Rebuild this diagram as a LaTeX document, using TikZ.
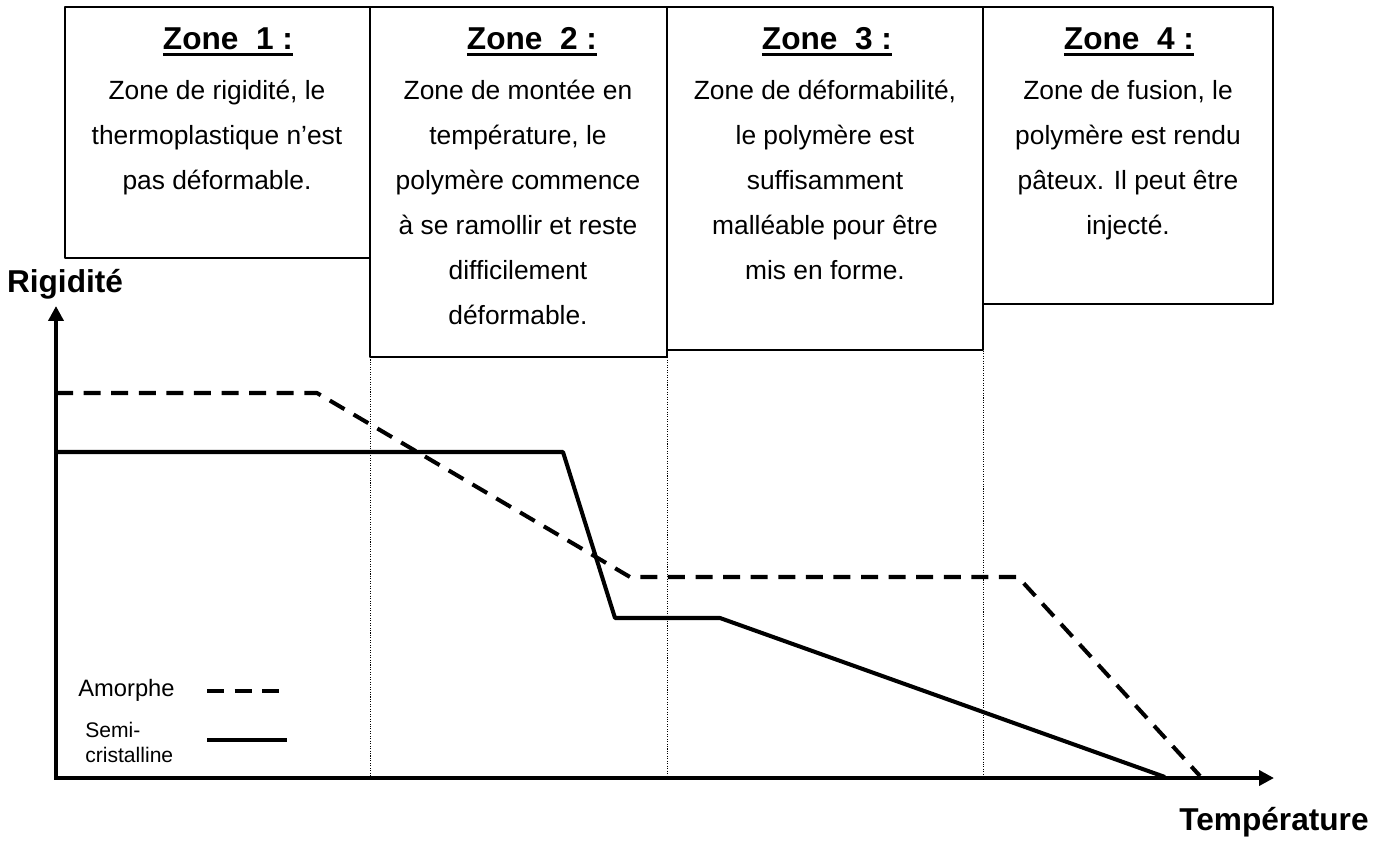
\documentclass[tikz,border=0pt]{standalone}
\usepackage{fontspec}
\setmainfont{Liberation Sans}
\usetikzlibrary{arrows.meta}
\newcommand{\zoneul}[1]{\setbox0\hbox{#1}\rlap{\rule[-4pt]{\wd0}{1.6pt}}\box0}
\tikzset{
  zonebox/.style={draw, line width=1.1pt},
  zonetitle/.style={font=\fontsize{18}{22}\bfseries\selectfont, anchor=base, inner sep=0pt},
  zonetext/.style={font=\fontsize{15}{25.6}\selectfont, align=center, anchor=base, inner sep=0pt},
  axislabel/.style={font=\fontsize{18}{21}\bfseries\selectfont, anchor=base, inner sep=0pt},
  legtext/.style={font=\fontsize{13.5}{13.7}\selectfont, align=left, anchor=base west, inner sep=0pt},
  limit/.style={line width=0.5pt, dash pattern=on 0.6pt off 0.8pt},
  axis/.style={line width=2.6pt, line join=miter},
  amorphe/.style={line width=2.3pt, dash pattern=on 9.7pt off 6pt},
  semicrist/.style={line width=2.3pt}
}
\begin{document}
\begin{tikzpicture}[x=0.02cm, y=-0.02cm, line join=round, >={Triangle[length=8.5pt, width=8.5pt]}]
\useasboundingbox (0,0) rectangle (1387,843);
\path
(56,778) coordinate (O)
(56,306) coordinate (Y)
(1274,778) coordinate (X)
;
% les zones
\foreach \n/\xa/\xb/\yb/\xt in {1/65/370/258/228, 2/370/667/357/532, 3/667/983/350/827, 4/983/1273/304/1129}{
  \draw[zonebox] (\xa,7) coordinate (Z\n a) rectangle (\xb,\yb) coordinate (Z\n b);
  \node[zonetitle] (T\n) at (\xt,49) {\zoneul{Zone\ \ \n\ :}};
}
% texte : base de la derniere ligne
\node[zonetext] (B1) at (217,189) {Zone de rigidité, le\\thermoplastique n’est\\pas déformable.};
\node[zonetext] (B2) at (518,324) {Zone de montée en\\température, le\\polymère commence\\à se ramollir et reste\\difficilement\\déformable.};
\node[zonetext] (B3) at (825,279) {Zone de déformabilité,\\le polymère est\\suffisamment\\malléable pour être\\mis en forme.};
\node[zonetext] (B4) at (1128,234) {Zone de fusion, le\\polymère est rendu\\pâteux. Il peut être\\injecté.};
\foreach \n in {2,3,4}
  \draw[limit] (Z\n a |- Z\n b) -- (Z\n a |- O);
% axes
\draw[axis, <->] (Y) -- (O) -- (X);
\node[axislabel] (Ry) at (65,292) {Rigidité};
\node[axislabel] (Tx) at (1274,830) {Température};
% courbes
\path
(56,393) coordinate (A1)
(317,393) coordinate (A2)
(630,577) coordinate (A3)
(1018,577) coordinate (A4)
(1200,776) coordinate (A5)
(56,452) coordinate (S1)
(563,452) coordinate (S2)
(615,618) coordinate (S3)
(720,618) coordinate (S4)
(1165,777) coordinate (S5)
;
\draw[amorphe] (A1) -- (A2) -- (A3) -- (A4) -- (A5);
\draw[semicrist] (S1) -- (S2) -- (S3) -- (S4) -- (S5);
% legende
\node[legtext] (La) at (78,696) {Amorphe};
\node[legtext, font=\fontsize{12}{13.7}\selectfont] (Ls) at (85,762) {Semi-\\cristalline};
\path
(207,691) coordinate (La1) (280,691) coordinate (La2)
(207,740) coordinate (Ls1) (287,740) coordinate (Ls2)
;
\draw[amorphe] (La1) -- (La2);
\draw[semicrist] (Ls1) -- (Ls2);
\end{tikzpicture}
\end{document}
